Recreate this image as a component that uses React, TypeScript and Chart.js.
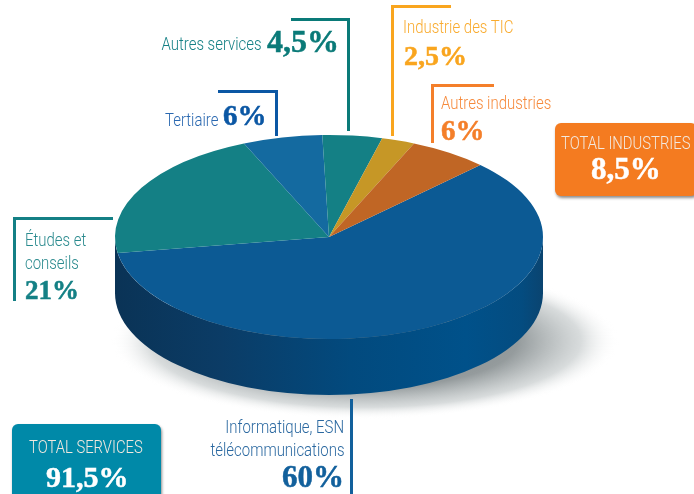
import React, { useEffect, useRef } from "react";
import { Chart, registerables } from "chart.js";

Chart.register(...registerables);

const categories = ["Informatique, ESN télécommunications", "Études et conseils", "Tertiaire", "Autres services", "Industrie des TIC", "Autres industries"];
const shares = [60, 21, 6, 4.5, 2.5, 6];
const shareLabels = ["60%", "21%", "6%", "4,5%", "2,5%", "6%"];
const totalLabels = ["TOTAL SERVICES", "TOTAL INDUSTRIES"];
const totalValues = ["91,5%", "8,5%"];

const faceColors = ["#0c5a94", "#148085", "#146aa0", "#148085", "#c69726", "#c06625"];
const RATIO = 102 / 214;
const DEPTH = 56;
const SANS = "Roboto, 'Liberation Sans', sans-serif";
const SERIF = "'Liberation Serif', serif";

const pie3d = {
  id: "pie3d",
  beforeDatasetsDraw(chart: any) {
    const ctx = chart.ctx;
    const arcs = chart.getDatasetMeta(0).data;
    const { x: cx, y: cy, outerRadius: rx } = arcs[0];
    const ry = rx * RATIO;

    // floor shadow
    ctx.save();
    ctx.translate(cx + 36, cy + 104);
    ctx.scale(1, 78 / 254);
    const g = ctx.createRadialGradient(0, 0, 0, 0, 0, 254);
    g.addColorStop(0, "rgba(100,110,113,0.9)");
    g.addColorStop(0.6, "rgba(125,133,135,0.82)");
    g.addColorStop(0.85, "rgba(190,196,197,0.6)");
    g.addColorStop(1, "rgba(255,255,255,0)");
    ctx.fillStyle = g;
    ctx.beginPath();
    ctx.arc(0, 0, 254, 0, Math.PI * 2);
    ctx.fill();
    ctx.restore();

    // side wall
    const wall = ctx.createLinearGradient(cx - rx, 0, cx + rx, 0);
    wall.addColorStop(0, "#0a3356");
    wall.addColorStop(0.25, "#0b3c66");
    wall.addColorStop(0.55, "#024a7e");
    wall.addColorStop(0.82, "#00518a");
    wall.addColorStop(0.95, "#044c80");
    wall.addColorStop(1, "#0a4470");
    ctx.save();
    ctx.fillStyle = wall;
    ctx.beginPath();
    ctx.ellipse(cx, cy, rx, ry, 0, 0, Math.PI);
    ctx.ellipse(cx, cy + DEPTH, rx, ry, 0, Math.PI, 0, true);
    ctx.closePath();
    ctx.fill();
    ctx.restore();

    // squash the top face
    ctx.save();
    ctx.translate(cx, cy);
    ctx.scale(1, RATIO);
    ctx.translate(-cx, -cy);
  },
  afterDatasetsDraw(chart: any) {
    chart.ctx.restore();
  },
};

type Callout = {
  color: string; numColor?: string; lines: { t: string; x: number; y: number; right?: boolean }[];
  num: { t: string; x: number; y: number; fs: number; right?: boolean };
  rules: [number, number, number, number][];
};

const W = 3;
const callouts: Callout[] = [
  { color: "#148085", numColor: "#0a7a78", lines: [{ t: "Autres services", x: 262, y: 50, right: true }],
    num: { t: shareLabels[3], x: 267, y: 52, fs: 32 }, rules: [[291, 18, 58, W], [347, 18, W, 113]] },
  { color: "#2a68b0", numColor: "#0b57a4", lines: [{ t: "Tertiaire", x: 218, y: 126, right: true }],
    num: { t: shareLabels[2], x: 223, y: 126, fs: 29 }, rules: [[218, 90, 60, W], [275, 90, W, 46]] },
  { color: "#2a8a8e", numColor: "#148085", lines: [{ t: "Études et", x: 25, y: 246 }, { t: "conseils", x: 25, y: 269 }],
    num: { t: shareLabels[1], x: 25, y: 300, fs: 27 }, rules: [[13, 217, 100, W], [13, 217, 3, 84]] },
  { color: "#f9ab2e", numColor: "#f9a51e", lines: [{ t: "Industrie des TIC", x: 403, y: 33 }],
    num: { t: shareLabels[4], x: 404, y: 66, fs: 28 }, rules: [[391, 5, 60, W], [391, 5, W, 131]] },
  { color: "#f68a3c", numColor: "#f47f2a", lines: [{ t: "Autres industries", x: 441, y: 109 }],
    num: { t: shareLabels[5], x: 441, y: 141, fs: 29 }, rules: [[431, 84, 63, W], [431, 84, W, 59]] },
  { color: "#2a68a0", numColor: "#12609c", lines: [{ t: "Informatique, ESN", x: 344, y: 433, right: true }, { t: "télécommunications", x: 344, y: 456, right: true }],
    num: { t: shareLabels[0], x: 344, y: 487, fs: 31, right: true }, rules: [[350, 399, 3, 95]] },
];

function Txt({ t, x, y, fs, color, font, bold, light, right, sx }: any) {
  const pos: any = right ? { right: 694 - x } : { left: x };
  return (
    <span style={{ position: "absolute", ...pos, top: y - 0.85 * fs, fontSize: fs, lineHeight: 1, color, fontFamily: font, fontWeight: bold ? 700 : light ? 300 : 400, whiteSpace: "nowrap", WebkitTextStroke: bold ? `0.5px ${color}` : undefined, transform: sx ? `scaleX(${sx})` : undefined, transformOrigin: right ? "right center" : "left center" } as any}>{t}</span>
  );
}

function Box({ x, y, w, h, bg, label, value, lx, ly, lfs, vx, vy, vfs }: any) {
  return (
    <>
      <div style={{ position: "absolute", left: x, top: y, width: w, height: h, background: bg, borderRadius: 6, boxShadow: "1px 2px 3px rgba(0,0,0,0.45)" }} />
      <Txt t={label} x={lx} y={ly} fs={lfs} color="#f3e9df" font={SANS} light sx={0.8} />
      <Txt t={value} x={vx} y={vy} fs={vfs} color="#ffffff" font={SERIF} bold />
    </>
  );
}

export default function App() {
  const ref = useRef<HTMLCanvasElement>(null);
  useEffect(() => {
    const chart = new Chart(ref.current as HTMLCanvasElement, {
      type: "pie",
      data: {
        labels: categories,
        datasets: [{ data: shares, backgroundColor: faceColors, borderWidth: 0, radius: 214, clip: false } as any],
      },
      options: {
        responsive: false,
        animation: false,
        rotation: 45,
        layout: { padding: { left: 0, right: 36, top: 0, bottom: 20 } },
        plugins: { legend: { display: false }, tooltip: { enabled: false } },
      },
      plugins: [pie3d],
    });
    return () => chart.destroy();
  }, []);
  return (
    <div style={{ position: "fixed", left: 0, top: 0, width: 694, height: 494, overflow: "hidden", background: "#fff" }}>
      <canvas ref={ref} width={694} height={494} style={{ position: "absolute", left: 0, top: 0 }} />
      {callouts.map((c, i) => (
        <React.Fragment key={i}>
          {c.rules.map((r, j) => (
            <div key={j} style={{ position: "absolute", left: r[0], top: r[1], width: r[2], height: r[3], background: c.numColor }} />
          ))}
          {c.lines.map((l, j) => (
            <Txt key={j} t={l.t} x={l.x} y={l.y} fs={18} color={c.color} font={SANS} light sx={0.83} right={l.right} />
          ))}
          <Txt t={c.num.t} x={c.num.x} y={c.num.y} fs={c.num.fs} color={c.numColor} font={SERIF} bold right={c.num.right} />
        </React.Fragment>
      ))}
      <Box x={555} y={123} w={142} h={73} bg="#f47b20" label={totalLabels[1]} value={totalValues[1]} lx={561} ly={150} lfs={18.5} vx={591} vy={179} vfs={31} />
      <Box x={12} y={424} w={149} h={90} bg="#0089a8" label={totalLabels[0]} value={totalValues[0]} lx={29} ly={454} lfs={18.5} vx={46} vy={487} vfs={30} />
    </div>
  );
}
